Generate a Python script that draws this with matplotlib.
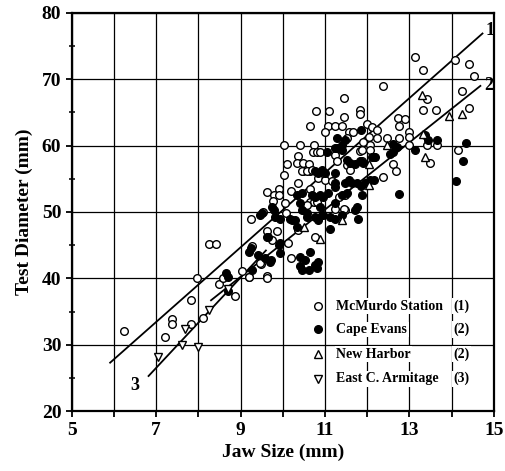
import numpy as np
import matplotlib
matplotlib.use("Agg")
import matplotlib.pyplot as plt

# McMurdo Station (open circles)
mcmurdo_x = [6.25, 7.21, 7.37, 7.37, 7.82, 7.96, 7.82, 8.12, 8.25, 8.41, 8.5, 8.59, 8.87, 9.03,
             9.19, 9.27, 9.48, 9.62, 9.46, 9.25, 9.62, 9.78, 9.9, 9.92, 9.54, 9.62, 9.86, 10.04,
             10.11, 10.04, 10.19, 10.08, 10.13, 10.2, 9.74, 10.37, 10.41, 10.73, 10.72, 10.8,
             10.88, 10.37, 10.33, 10.49, 10.61, 10.49, 10.65, 10.37, 10.65, 9.76, 10.05, 10.65,
             10.73, 10.81, 10.77, 10.84, 11.0, 11.16, 11.24, 11.28, 11.52, 11.32, 11.48, 11.24,
             11.48, 10.57, 9.62, 9.19,
             13.12, 13.33, 14.08, 14.4, 14.54, 14.24, 12.37, 13.41, 11.46, 10.78, 11.1, 11.83,
             11.83, 11.46, 10.65, 11.08, 11.24, 11.4, 11.0, 11.56, 11.67, 11.99, 12.11, 12.24,
             12.74, 12.9, 12.76, 12.98, 12.98, 13.33, 13.63, 14.4, 11.52, 12.03, 12.23, 12.46,
             12.76, 12.98, 13.41, 13.65, 14.16, 13.49, 12.6, 12.69, 12.38, 11.83, 12.07, 11.87,
             11.6, 12.15, 11.91, 11.87, 11.44, 10.45, 10.57, 10.69, 12.07]
mcmurdo_y = [32.1, 31.2, 33.9, 33.1, 36.7, 40.1, 33.1, 34.1, 45.1, 45.2, 39.1, 40.1, 37.4, 41.1,
             40.2, 44.8, 42.1, 40.3, 42.3, 49.0, 53.0, 52.5, 53.4, 52.5, 50.0, 47.2, 47.2, 60.1,
             57.2, 55.6, 53.2, 49.8, 45.3, 43.0, 45.8, 47.3, 60.1, 60.1, 59.1, 59.1,
             59.1, 58.5, 57.3, 57.3, 57.2, 56.1, 56.1, 54.3, 53.4, 51.6, 51.3, 51.5,
             51.5, 51.5, 46.3, 55.1, 54.8, 54.6, 58.6, 57.6, 57.1, 52.3, 52.5, 50.5,
             50.3, 51.0, 40.0, 40.2,
             73.3, 71.3, 72.9, 72.3, 70.4, 68.2, 69.0, 67.0, 67.1, 65.2, 65.2, 65.3,
             64.7, 64.3, 62.9, 62.9, 62.9, 62.9, 62.1, 62.1, 62.1, 63.3, 62.8, 62.4,
             64.2, 64.0, 62.9, 62.1, 61.3, 65.3, 65.3, 65.6, 61.2, 61.3, 61.1, 61.1,
             61.1, 60.1, 60.1, 60.1, 59.3, 57.3, 57.2, 56.2, 55.3, 59.2, 60.1, 57.6,
             56.3, 58.3, 60.6, 59.3, 50.5, 56.1, 56.1, 56.3, 59.3]

# Cape Evans (filled circles)
cape_x = [8.66, 8.71, 8.7, 9.19, 9.24, 9.27, 9.46, 9.64, 9.72, 9.92, 9.94, 9.7, 9.82, 9.94,
          10.21, 9.74, 9.78, 9.5, 10.17, 10.29, 10.57, 10.77, 11.12, 11.24, 11.12, 9.62, 9.58,
          9.42, 10.41, 10.65, 10.53, 10.45, 10.61, 10.77, 10.82, 10.41, 10.84, 10.33, 10.33,
          10.45, 10.69, 10.77, 10.88, 10.96, 11.24, 10.41, 10.45, 10.57, 10.84, 10.96, 10.84,
          10.92, 10.77, 11.0, 11.24, 11.24, 11.48, 11.04, 11.24, 11.41, 11.28, 11.48, 11.28,
          11.4, 11.86, 11.52, 11.6, 11.71, 11.83, 11.91, 11.56, 11.64, 11.75, 11.86, 11.95,
          12.07, 12.15, 11.52, 11.4, 11.87, 11.08, 11.24, 10.88, 11.75, 11.71, 11.79, 11.4,
          12.11, 12.19, 12.54, 12.62, 12.62, 12.7, 13.14, 13.37, 13.45, 13.65, 14.34, 14.26,
          14.1, 12.76, 9.94]
cape_y = [40.8, 40.2, 38.1, 43.9, 44.5, 41.3, 49.5, 46.3, 42.8, 45.0, 43.8, 42.5, 49.3, 49.0,
          48.8, 50.8, 50.3, 49.8, 49.0, 48.8, 49.3, 49.3, 49.3, 49.0, 47.5, 46.3, 43.0,
          43.5, 43.2, 43.9, 42.7, 41.3, 41.3, 42.0, 41.5, 41.8, 42.5, 47.8, 52.5,
          52.8, 52.5, 52.3, 52.5, 52.3, 51.3, 51.3, 50.3, 49.8, 48.8, 49.5, 55.8,
          56.3, 56.1, 55.8, 55.8, 54.3, 54.3, 59.1, 59.6, 60.1, 61.1, 60.8, 59.6,
          59.3, 62.3, 57.8, 57.3, 57.2, 57.6, 57.3, 54.8, 54.3, 54.3, 53.9, 54.3,
          54.8, 54.8, 52.8, 52.5, 52.5, 52.8, 53.8, 50.8, 50.8, 50.3, 49.0, 49.5,
          58.3, 58.3, 58.8, 59.1, 60.3, 59.8, 59.3, 61.6, 60.9, 60.9, 60.4, 57.7,
          54.7, 52.7, 45.3]

# New Harbor (up triangles)
harbor_x = [10.51, 10.88, 11.41, 13.29, 13.94, 14.24, 13.37, 12.46, 12.03, 13.33, 12.03]
harbor_y = [47.7, 46.0, 48.8, 67.6, 64.4, 64.8, 58.3, 60.1, 57.2, 61.8, 54.0]

# East C. Armitage (down triangles)
armitage_x = [7.05, 7.61, 7.68, 7.98, 8.26, 8.7]
armitage_y = [28.2, 30.0, 32.3, 29.7, 35.2, 38.4]

# regression lines: (x start, x end, slope, intercept)
fit_1 = (5.91, 14.73, 5.62, -5.91)
fit_2 = (8.3, 14.68, 5.06, -5.3)
fit_3 = (6.82, 9.6, 6.8, -21.08)

legend_names = ["McMurdo Station", "Cape Evans", "New Harbor", "East C. Armitage"]
legend_lines = ["(1)", "(2)", "(2)", "(3)"]

font = "Liberation Serif"

fig = plt.figure(figsize=(5.05, 4.71), dpi=100)
ax = fig.add_axes([0.142, 0.127, 0.836, 0.846])

ax.set_xlim(5, 15)
ax.set_ylim(20, 80)
ax.set_xticks(np.arange(5, 16, 1))
ax.set_xticklabels([str(v) if v % 2 == 1 else "" for v in range(5, 16)])
ax.set_yticks(np.arange(20, 81, 10))
ax.set_yticks(np.arange(25, 80, 10), minor=True)
ax.grid(True, color="black", linewidth=0.9)
ax.set_axisbelow(True)
for s in ax.spines.values():
    s.set_linewidth(1.6)
ax.tick_params(axis="both", which="major", direction="out", length=4, width=1.3, labelsize=14)
ax.tick_params(axis="y", which="minor", direction="inout", length=5, width=1.1)
for lab in ax.get_xticklabels() + ax.get_yticklabels():
    lab.set_fontfamily(font)
    lab.set_fontweight("bold")

for x0, x1, m, b in [fit_1, fit_2, fit_3]:
    xs = np.array([x0, x1])
    ax.plot(xs, m * xs + b, color="black", linewidth=1.3, zorder=3)

ax.text(14.8, 77.3, "1", fontsize=13, fontweight="bold", family=font, va="center")
ax.text(14.78, 69.0, "2", fontsize=13, fontweight="bold", family=font, va="center")
ax.text(6.6, 23.8, "3", fontsize=13, fontweight="bold", family=font, va="center", ha="right")

ms = 5.5
ax.plot(mcmurdo_x, mcmurdo_y, "o", ms=ms, mfc="white", mec="black", mew=1.0, zorder=4)
ax.plot(cape_x, cape_y, "o", ms=ms, mfc="black", mec="black", mew=1.0, zorder=4)
ax.plot(harbor_x, harbor_y, "^", ms=ms, mfc="white", mec="black", mew=1.0, zorder=4)
ax.plot(armitage_x, armitage_y, "v", ms=ms, mfc="white", mec="black", mew=1.0, zorder=4)

# hand-built legend
leg_y = [35.8, 32.3, 28.6, 24.9]
leg_marks = [("o", "white"), ("o", "black"), ("^", "white"), ("v", "white")]
for yy, (mk, fc), name, ln in zip(leg_y, leg_marks, legend_names, legend_lines):
    ax.plot([10.84], [yy], mk, ms=ms, mfc=fc, mec="black", mew=1.0, zorder=5)
    ax.text(11.27, yy, name, fontsize=10, fontweight="bold", family=font, va="center",
            zorder=5, bbox=dict(facecolor="white", edgecolor="none", pad=1.0))
    ax.text(14.03, yy, ln, fontsize=10, fontweight="bold", family=font, va="center",
            zorder=5, bbox=dict(facecolor="white", edgecolor="none", pad=1.0))

ax.set_xlabel("Jaw Size (mm)", fontsize=14, fontweight="bold", family=font, labelpad=4)
ax.set_ylabel("Test Diameter (mm)", fontsize=14, fontweight="bold", family=font, labelpad=6)

fig.savefig("out.png", dpi=100)
